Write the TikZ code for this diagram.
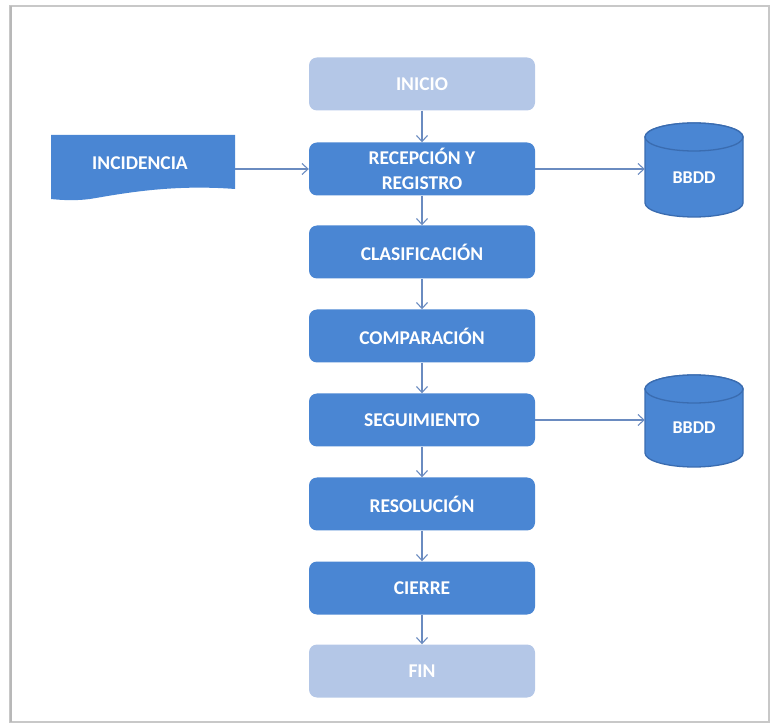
\documentclass[tikz,border=0pt]{standalone}
\usepackage{fontspec}
\setmainfont{Carlito}
\usetikzlibrary{arrows.meta}
\definecolor{stepblue}{HTML}{4A86D3}
\definecolor{paleblue}{HTML}{B4C7E7}
\definecolor{dbedge}{HTML}{3A6CB0}
\definecolor{flowline}{HTML}{6A8BC0}
\definecolor{framegray}{HTML}{C8C8C8}
\tikzset{
  labelfont/.style={text=white, font=\fontsize{19.5}{25}\selectfont\bfseries},
  stepbox/.style={rectangle, rounded corners=8pt, fill=stepblue, minimum width=226pt,
    minimum height=53pt, labelfont, align=center},
  endbox/.style={stepbox, fill=paleblue},
  dbbody/.style={draw=dbedge, line width=1.3pt, fill=stepblue},
  flow/.style={draw=flowline, line width=1.1pt, -{Straight Barb[length=6pt,width=11pt]}}
}
% cylinder drawn by hand: #1 = centre x, #2 = top y, #3 = bottom y
\newcommand\drawdrum[3]{%
  \path[dbbody] (#1-49,#2+14) -- (#1-49,#3-14) arc[start angle=180, end angle=360, x radius=49, y radius=-14]
    -- (#1+49,#2+14) arc[start angle=0, end angle=180, x radius=49, y radius=-14] -- cycle;
  \draw[dbbody] (#1,#2+14) ellipse[x radius=49, y radius=14];
}
\begin{document}
\begin{tikzpicture}[x=1pt,y=-1pt]
\useasboundingbox (0,0) rectangle (772,727);
% outer frame
\draw[framegray, line width=1.2pt] (10,6) rectangle (769,722);
\draw[framegray!130, line width=2.5pt] (11,6) -- (11,722);

% main sequence
\node[endbox]  (inicio) at (422,84)  {INICIO};
\node[stepbox] (recep)  at (422,169) {RECEPCIÓN Y\\REGISTRO};
\node[stepbox] (clasif) at (422,252) {CLASIFICACIÓN};
\node[stepbox] (compar) at (422,336) {COMPARACIÓN};
\node[stepbox] (segui)  at (422,420) {SEGUIMIENTO};
\node[stepbox] (resol)  at (422,504) {RESOLUCIÓN};
\node[stepbox] (cierre) at (422,588) {CIERRE};
\node[endbox]  (fin)    at (422,671) {FIN};

% incoming document
\path[fill=stepblue] (51,135) -- (235,135) -- (235,189)
  .. controls (170,184) and (120,194) .. (90,199)
  .. controls (75,201) and (60,200) .. (51,199) -- cycle;
\node[labelfont] (incid) at (140,163) {INCIDENCIA};
\coordinate (incidout) at (235,169);

% databases
\drawdrum{694}{123}{217}
\node[labelfont, font=\fontsize{18}{22}\selectfont\bfseries, minimum width=98pt, minimum height=80pt] (bd1) at (694,178) {BBDD};
\drawdrum{694}{375}{467}
\node[labelfont, font=\fontsize{18}{22}\selectfont\bfseries, minimum width=98pt, minimum height=80pt] (bd2) at (694,428) {BBDD};

% connectors
\draw[flow] (inicio) -- (recep);
\draw[flow] (recep) -- (clasif);
\draw[flow] (clasif) -- (compar);
\draw[flow] (compar) -- (segui);
\draw[flow] (segui) -- (resol);
\draw[flow] (resol) -- (cierre);
\draw[flow] (cierre) -- (fin);
\draw[flow] (incidout) -- (recep.west |- incidout);
\draw[flow] (recep.east) -- (bd1.west |- recep.east);
\draw[flow] (segui.east) -- (bd2.west |- segui.east);
\end{tikzpicture}
\end{document}
